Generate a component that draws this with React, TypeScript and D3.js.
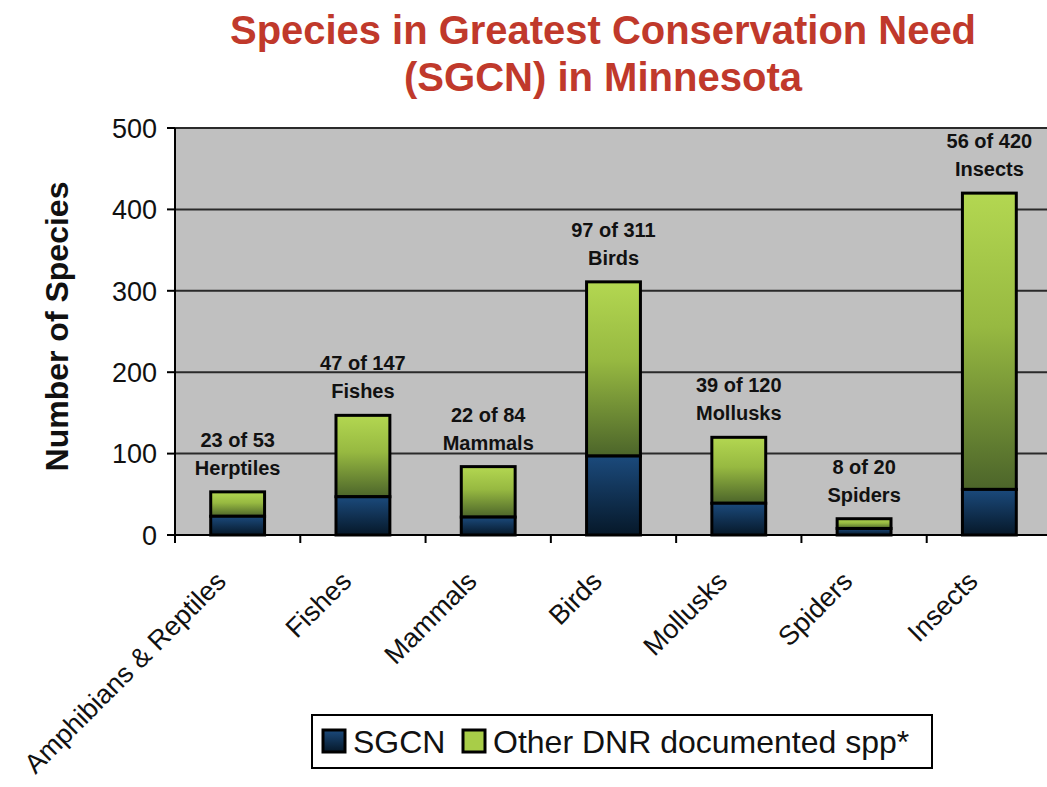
import React from "react";
import * as d3 from "d3";

const categories = ["Amphibians & Reptiles", "Fishes", "Mammals", "Birds", "Mollusks", "Spiders", "Insects"];
const shortNames = ["Herptiles", "Fishes", "Mammals", "Birds", "Mollusks", "Spiders", "Insects"];
const sgcnValues = [23, 47, 22, 97, 39, 8, 56];
const totalValues = [53, 147, 84, 311, 120, 20, 420];
const yTicks = [0, 100, 200, 300, 400, 500];

const W = 1047, H = 787;
const left = 175, right = 1052, top = 128, bottom = 535;

export default function App() {
  const x = d3.scaleBand<string>().domain(categories).range([left, right]).paddingInner(0.57).paddingOuter(0.285);
  const y = d3.scaleLinear().domain([0, 500]).range([bottom, top]);
  const slot = (right - left) / categories.length;
  const bw = x.bandwidth();
  return (
    <div style={{ position: "absolute", left: 0, top: 0 }}>
      <svg width={W} height={H} style={{ display: "block" }} fontFamily="Liberation Sans, Arial, sans-serif">
        <defs>
          <linearGradient id="gBlue" x1="0" y1="0" x2="0" y2="1">
            <stop offset="0" stopColor="#1b4a7c" />
            <stop offset="1" stopColor="#061829" />
          </linearGradient>
          <linearGradient id="gGreen" x1="0" y1="0" x2="0" y2="1">
            <stop offset="0" stopColor="#b3d751" />
            <stop offset="0.45" stopColor="#97b941" />
            <stop offset="1" stopColor="#4c652a" />
          </linearGradient>
        </defs>
        <rect width={W} height={H} fill="#ffffff" />
        <text x={603} y={44} textAnchor="middle" fill="#c0392b" fontWeight="bold" fontSize={40}
          fontFamily="Liberation Sans Narrow, Arial Narrow, Liberation Sans, sans-serif"
          textLength={746} lengthAdjust="spacingAndGlyphs">Species in Greatest Conservation Need</text>
        <text x={603} y={91} textAnchor="middle" fill="#c0392b" fontWeight="bold" fontSize={40}
          fontFamily="Liberation Sans Narrow, Arial Narrow, Liberation Sans, sans-serif"
          textLength={398} lengthAdjust="spacingAndGlyphs">(SGCN) in Minnesota</text>
        <rect x={left} y={top} width={right - left} height={bottom - top} fill="#c0c0c0" />
        <line x1={left} x2={right} y1={top} y2={top} stroke="#999" strokeWidth={2} />
        {yTicks.filter(t => t > 0).map(t => (
          <line key={t} x1={left} x2={right} y1={y(t)} y2={y(t)} stroke="#2a2a2a" strokeWidth={2} />
        ))}
        {yTicks.map(t => (
          <g key={"yt" + t}>
            <line x1={left - 8} x2={left} y1={y(t)} y2={y(t)} stroke="#000" strokeWidth={2} />
            <text x={157} y={y(t)} dy="0.36em" textAnchor="end" fontSize={27} fill="#111">{t}</text>
          </g>
        ))}
        <text transform={`translate(68,${(top + bottom) / 2 - 5}) rotate(-90)`} textAnchor="middle" fontSize={32} fontWeight="bold" fill="#111">Number of Species</text>
        {categories.map((c, i) => {
          const bx = x(c)!;
          const ySg = y(sgcnValues[i]);
          const yTot = y(totalValues[i]);
          const cx = bx + bw / 2;
          return (
            <g key={c}>
              <rect x={bx} y={yTot} width={bw} height={ySg - yTot} fill="url(#gGreen)" stroke="#000" strokeWidth={3} />
              <rect x={bx} y={ySg} width={bw} height={bottom - ySg} fill="url(#gBlue)" stroke="#000" strokeWidth={3} />
              <text x={cx} y={yTot - 45} textAnchor="middle" fontSize={20} fontWeight="bold" fill="#111">{`${sgcnValues[i]} of ${totalValues[i]}`}</text>
              <text x={cx} y={yTot - 17} textAnchor="middle" fontSize={20} fontWeight="bold" fill="#111">{shortNames[i]}</text>
            </g>
          );
        })}
        <line x1={left} x2={left} y1={top} y2={bottom + 8} stroke="#000" strokeWidth={2} />
        <line x1={left} x2={right} y1={bottom} y2={bottom} stroke="#000" strokeWidth={2} />
        {d3.range(categories.length + 1).map(i => (
          <line key={"xt" + i} x1={left + i * slot} x2={left + i * slot} y1={bottom} y2={bottom + 8} stroke="#000" strokeWidth={2} />
        ))}
        {categories.map((c, i) => {
          const cx = x(c)! + bw / 2;
          return (
            <text key={"xl" + c} transform={`translate(${cx - 10},${bottom + 48}) rotate(-45)`} textAnchor="end" fontSize={27} fill="#111">{c}</text>
          );
        })}
        <rect x={312} y={715} width={620} height={53} fill="#fff" stroke="#000" strokeWidth={2} />
        <rect x={323} y={730} width={22} height={22} fill="url(#gBlue)" stroke="#000" strokeWidth={3} />
        <text x={353} y={753} fontSize={32} fill="#111">SGCN</text>
        <rect x={463} y={730} width={22} height={22} fill="#a8cd48" stroke="#000" strokeWidth={3} />
        <text x={493} y={753} fontSize={32} fill="#111">Other DNR documented spp*</text>
      </svg>
    </div>
  );
}
